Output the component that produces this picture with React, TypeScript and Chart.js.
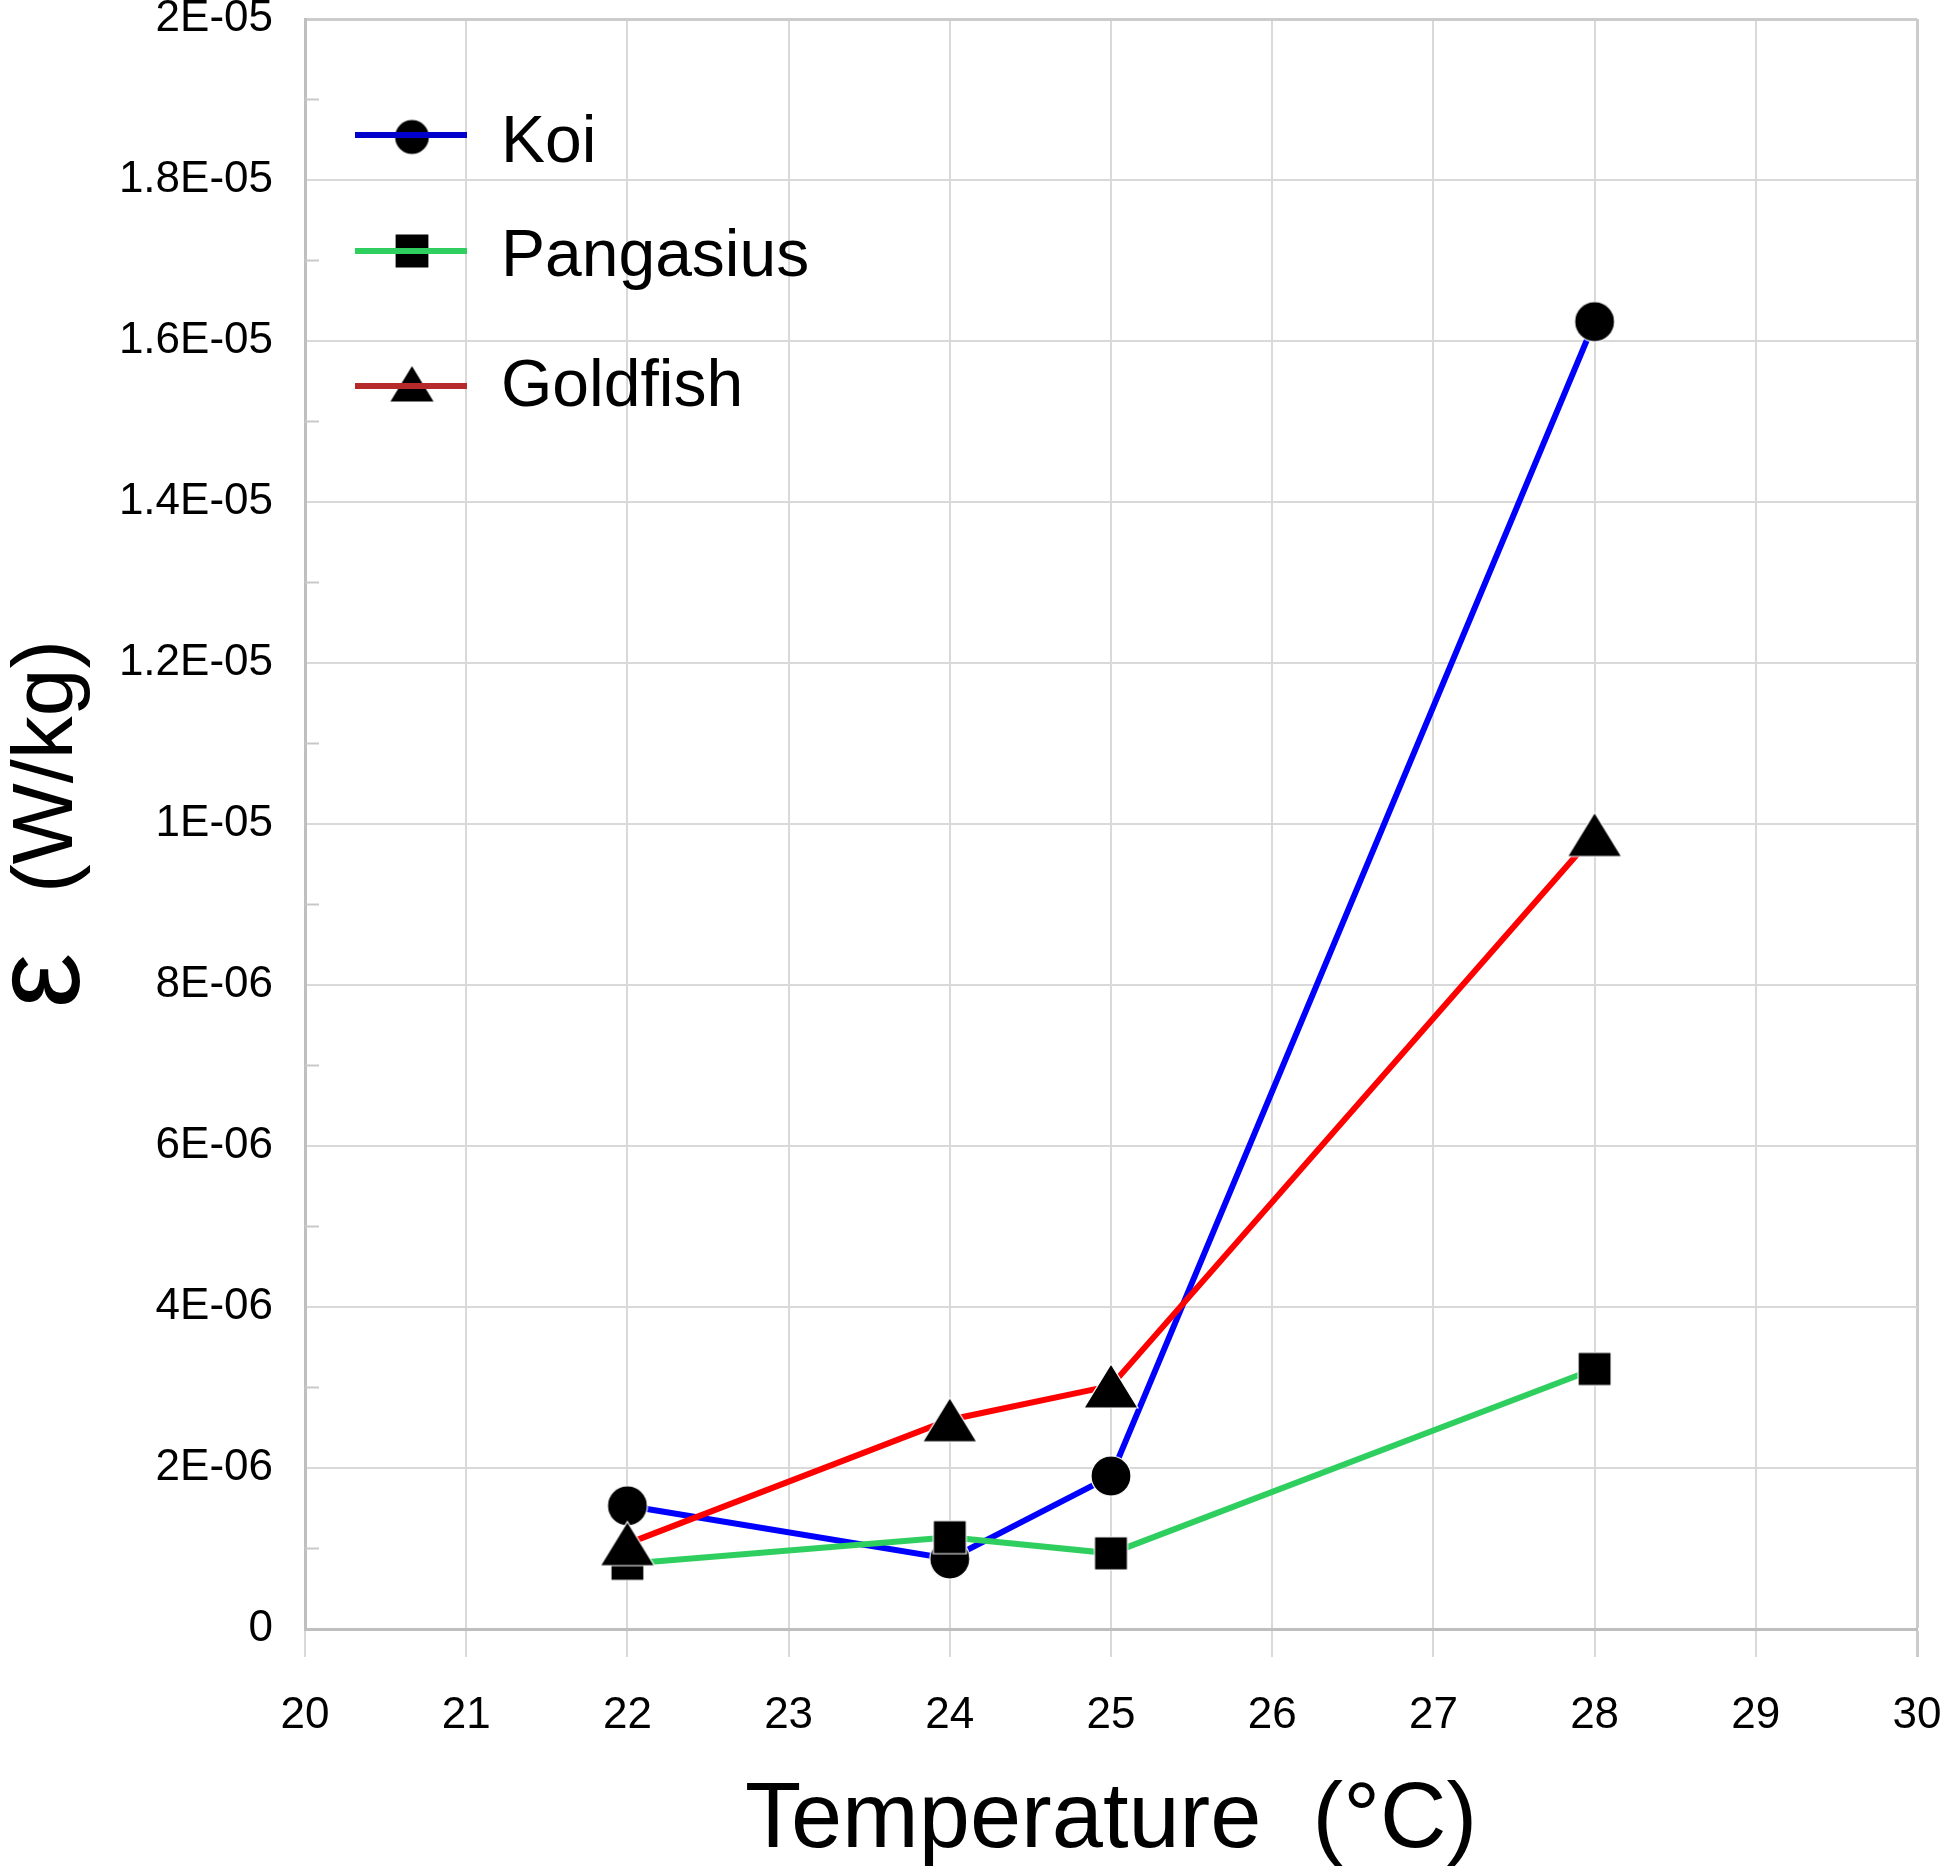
import { useEffect, useRef } from 'react';
import { Chart, registerables } from 'chart.js';
Chart.register(...registerables);

// values (W/kg)
const TEMPS = [22, 24, 25, 28];
const KOI = [1.53e-6, 0.87e-6, 1.9e-6, 16.24e-6];
const PANGASIUS = [0.81e-6, 1.14e-6, 0.94e-6, 3.23e-6];
const GOLDFISH = [1.06e-6, 2.6e-6, 3.02e-6, 9.87e-6];

const SERIES_NAMES = ['Koi', 'Pangasius', 'Goldfish'];
const Y_TICK_LABELS = ['0', '2E-06', '4E-06', '6E-06', '8E-06', '1E-05', '1.2E-05', '1.4E-05', '1.6E-05', '1.8E-05', '2E-05'];
const X_TITLE = 'Temperature  (°C)';
const Y_TITLE_SYMBOL = 'ε';
const Y_TITLE_UNIT = '(W/kg)';

const FONT = "'Liberation Sans', Arial, sans-serif";

function makeMarker(shape: string, w: number, h: number) {
  const c = document.createElement('canvas');
  c.width = w + 4;
  c.height = h + 4;
  const ctx = c.getContext('2d')!;
  ctx.beginPath();
  if (shape === 'circle') {
    ctx.ellipse(c.width / 2, c.height / 2, w / 2, h / 2, 0, 0, Math.PI * 2);
  } else if (shape === 'square') {
    ctx.rect(2, 2, w, h);
  } else {
    ctx.moveTo(c.width / 2, 2);
    ctx.lineTo(2 + w, 2 + h);
    ctx.lineTo(2, 2 + h);
    ctx.closePath();
  }
  ctx.fillStyle = '#000';
  ctx.fill();
  ctx.strokeStyle = '#fff';
  ctx.lineWidth = 1.2;
  ctx.stroke();
  return c;
}

function App() {
  const canvasRef = useRef<HTMLCanvasElement>(null);

  useEffect(() => {
    if (!canvasRef.current) return;

    const circle = makeMarker('circle', 40, 40);
    const square = makeMarker('square', 33, 33);
    const triangle = makeMarker('triangle', 54, 44);
    const legendMarkers = [makeMarker('circle', 35, 35), makeMarker('square', 34, 34), makeMarker('triangle', 45, 37)];
    const legendColors = ['#0000cc', '#2fcf5f', '#b52a2a'];

    const points = (vals: number[]) => TEMPS.map((t, i) => ({ x: t, y: vals[i] }));

    // small inner ticks between the labelled y values
    const minorTicks = {
      id: 'minorTicks',
      beforeDatasetsDraw(chart: any) {
        const { ctx, chartArea, scales } = chart;
        ctx.save();
        ctx.strokeStyle = '#c8c8c8';
        ctx.lineWidth = 2;
        for (let i = 0; i < Y_TICK_LABELS.length - 1; i++) {
          const y = scales.y.getPixelForValue((2 * i + 1) * 1e-6);
          ctx.beginPath();
          ctx.moveTo(chartArea.left, y);
          ctx.lineTo(chartArea.left + 14, y);
          ctx.stroke();
        }
        ctx.restore();
      }
    };

    const insideLegend = {
      id: 'insideLegend',
      afterDatasetsDraw(chart: any) {
        const { ctx, chartArea } = chart;
        const lineY = [116, 232, 367];
        const markY = [118, 232, 364.5];
        const baseY = [143, 257, 387];
        ctx.save();
        SERIES_NAMES.forEach((name, i) => {
          const m = legendMarkers[i];
          ctx.drawImage(m, chartArea.left + 107 - m.width / 2, chartArea.top + markY[i] - m.height / 2);
          ctx.strokeStyle = legendColors[i];
          ctx.lineWidth = 6;
          ctx.beginPath();
          ctx.moveTo(chartArea.left + 50, chartArea.top + lineY[i]);
          ctx.lineTo(chartArea.left + 162, chartArea.top + lineY[i]);
          ctx.stroke();
          ctx.font = `66px ${FONT}`;
          ctx.fillStyle = '#000';
          ctx.textBaseline = 'alphabetic';
          ctx.textAlign = 'left';
          ctx.fillText(name, chartArea.left + 196, chartArea.top + baseY[i]);
        });
        ctx.restore();
      }
    };

    // y title: big epsilon followed by the unit, rotated
    const yTitle = {
      id: 'yTitle',
      afterDraw(chart: any) {
        const { ctx, chartArea } = chart;
        const cy = (chartArea.top + chartArea.bottom) / 2;
        ctx.save();
        ctx.translate(72, cy);
        ctx.rotate(-Math.PI / 2);
        ctx.fillStyle = '#000';
        ctx.textBaseline = 'alphabetic';
        ctx.textAlign = 'left';
        ctx.font = `124px ${FONT}`;
        const we = ctx.measureText(Y_TITLE_SYMBOL).width;
        ctx.font = `86px ${FONT}`;
        const wu = ctx.measureText(Y_TITLE_UNIT).width;
        const gap = 60;
        const x0 = -(we + gap + wu) / 2;
        ctx.font = `124px ${FONT}`;
        ctx.fillText(Y_TITLE_SYMBOL, x0, 7);
        ctx.font = `86px ${FONT}`;
        ctx.fillText(Y_TITLE_UNIT, x0 + we + gap, 0);
        ctx.restore();
      }
    };

    const chart = new Chart(canvasRef.current, {
      type: 'line',
      data: {
        datasets: [
          {
            label: SERIES_NAMES[0],
            data: points(KOI),
            borderColor: '#0000ff',
            backgroundColor: '#000',
            borderWidth: 6,
            pointStyle: circle,
            pointRadius: 20,
            tension: 0,
            order: 2
          },
          {
            label: SERIES_NAMES[1],
            data: points(PANGASIUS),
            borderColor: '#2fcf5f',
            backgroundColor: '#000',
            borderWidth: 6,
            pointStyle: square,
            pointRadius: 20,
            tension: 0,
            order: 1
          },
          {
            label: SERIES_NAMES[2],
            data: points(GOLDFISH),
            borderColor: '#ff0000',
            backgroundColor: '#000',
            borderWidth: 6,
            pointStyle: triangle,
            pointRadius: 20,
            tension: 0,
            order: 0
          }
        ]
      },
      options: {
        animation: false,
        responsive: true,
        maintainAspectRatio: false,
        layout: {
          autoPadding: false,
          padding: { top: 19, right: 25, left: 0, bottom: 0 }
        },
        plugins: {
          legend: { display: false },
          tooltip: { enabled: false }
        },
        scales: {
          x: {
            type: 'linear',
            min: 20,
            max: 30,
            ticks: {
              stepSize: 1,
              color: '#000',
              font: { family: FONT, size: 44 },
              padding: 32,
              maxRotation: 0,
              autoSkip: false
            },
            grid: {
              color: (c: any) => (c.index === 10 ? '#cccccc' : '#d9d9d9'),
              lineWidth: (c: any) => (c.index === 10 ? 3 : 2),
              tickLength: 28,
              drawTicks: true
            },
            border: { color: '#bfbfbf', width: 3 },
            title: {
              display: true,
              text: X_TITLE,
              color: '#000',
              font: { family: FONT, size: 92, lineHeight: 1 },
              padding: { top: 0, bottom: 0 }
            },
            afterFit: (s: any) => {
              s.height = 239;
              s.paddingLeft = 0;
              s.paddingRight = 0;
            }
          },
          y: {
            min: 0,
            max: 2e-5,
            ticks: {
              stepSize: 2e-6,
              color: '#000',
              font: { family: FONT, size: 44 },
              padding: 32,
              callback: (_v: any, i: number) => Y_TICK_LABELS[i]
            },
            grid: {
              color: (c: any) => (c.index === 10 ? '#cccccc' : '#d9d9d9'),
              lineWidth: (c: any) => (c.index === 10 ? 3 : 2),
              drawTicks: false
            },
            border: { color: '#bfbfbf', width: 3 },
            afterFit: (s: any) => {
              s.width = 305;
              s.paddingTop = 0;
              s.paddingBottom = 0;
            }
          }
        }
      },
      plugins: [minorTicks, insideLegend, yTitle]
    });

    return () => {
      chart.destroy();
    };
  }, []);

  return (
    <div style={{ position: 'absolute', left: 0, top: 0, width: 1942, height: 1868, background: '#fff' }}>
      <canvas ref={canvasRef} />
    </div>
  );
}

export default App;
